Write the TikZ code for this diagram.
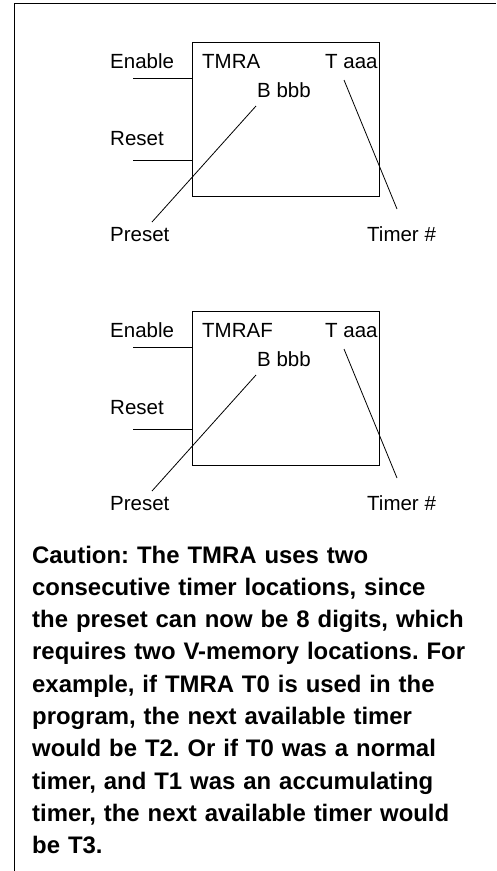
\documentclass[tikz,border=0pt]{standalone}
\usepackage{fontspec}
\setmainfont{Liberation Sans}
\frenchspacing
\begin{document}
\begin{tikzpicture}[x=1pt,y=-1pt,
  lbl/.style={anchor=base west, inner sep=0pt, font=\fontsize{20.5}{24}\selectfont},
  blk/.style={draw, line width=1.1pt, minimum width=187pt, minimum height=154pt, anchor=north west, inner sep=0pt},
  wire/.style={line width=1pt},
  lead/.style={line width=0.8pt}]
\useasboundingbox (0,0) rectangle (496,871);
% frame (top and left edges)
\draw[line width=1.4pt] (14.5,871) -- (14.5,3.5) -- (496,3.5);

% ---------- block 1 : TMRA ----------
\node[blk] (boxA) at (192,42) {};
\node[lbl] (enA) at (110,68) {Enable};
\node[lbl] (nameA) at (202,68) {TMRA};
\node[lbl] (taA) at (325,68) {T aaa};
\node[lbl] (bbA) at (257,97) {B bbb};
\node[lbl] (rsA) at (110,145) {Reset};
\node[lbl] (prA) at (110,241) {Preset};
\node[lbl] (tmA) at (367,241) {Timer \#};
\coordinate (enwA) at (133,78);
\coordinate (rswA) at (133,160);
\draw[wire] (enwA) -- (enwA -| boxA.west);
\draw[wire] (rswA) -- (rswA -| boxA.west);
\coordinate (p1A) at (256,106);
\coordinate (p2A) at (152,222);
\coordinate (t1A) at (344,80);
\coordinate (t2A) at (397,209);
\draw[lead] (p1A) -- (p2A);
\draw[lead] (t1A) -- (t2A);

% ---------- block 2 : TMRAF ----------
\node[blk] (boxB) at (192,311) {};
\node[lbl] (enB) at (110,337) {Enable};
\node[lbl] (nameB) at (202,337) {TMRAF};
\node[lbl] (taB) at (325,337) {T aaa};
\node[lbl] (bbB) at (257,366) {B bbb};
\node[lbl] (rsB) at (110,414) {Reset};
\node[lbl] (prB) at (110,510) {Preset};
\node[lbl] (tmB) at (367,510) {Timer \#};
\coordinate (enwB) at (133,347);
\coordinate (rswB) at (133,429);
\draw[wire] (enwB) -- (enwB -| boxB.west);
\draw[wire] (rswB) -- (rswB -| boxB.west);
\coordinate (p1B) at (256,375);
\coordinate (p2B) at (152,491);
\coordinate (t1B) at (344,349);
\coordinate (t2B) at (397,478);
\draw[lead] (p1B) -- (p2B);
\draw[lead] (t1B) -- (t2B);

% ---------- caution text ----------
\node[anchor=base west, inner sep=0pt, text width=455pt, align=left,
      font=\fontsize{23.9}{32.3}\selectfont\bfseries] (caution) at (32,563)
{Caution: The TMRA uses two\\
consecutive timer locations, since\\
the preset can now be 8 digits, which\\
requires two V-memory locations. For\\
example, if TMRA T0 is used in the\\
program, the next available timer\\
would be T2. Or if T0 was a normal\\
timer, and T1 was an accumulating\\
timer, the next available timer would\\
be T3.};
\end{tikzpicture}
\end{document}
